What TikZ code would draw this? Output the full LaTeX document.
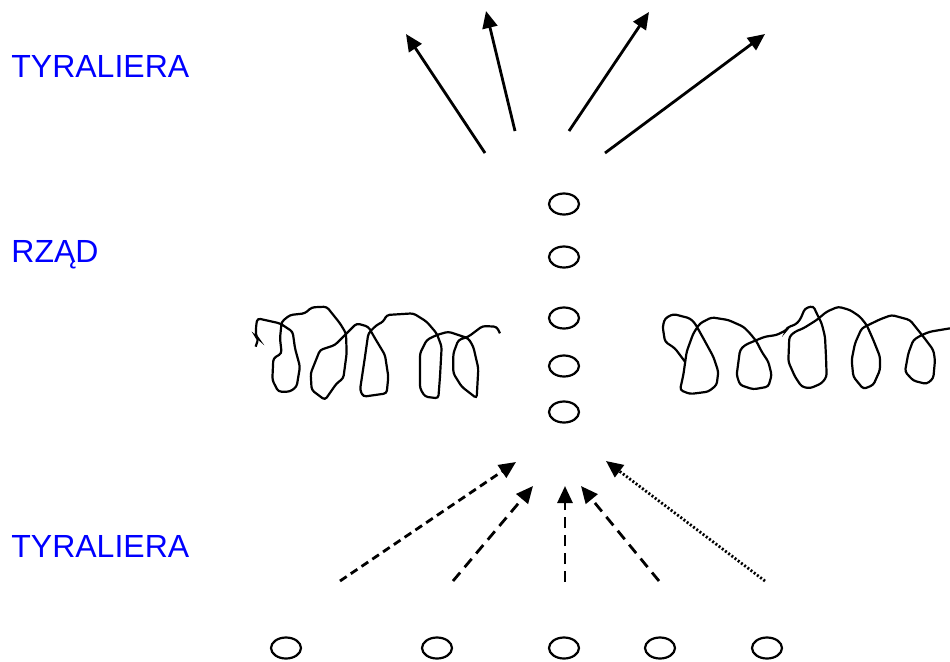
\documentclass[tikz,border=0pt]{standalone}
\usepackage{fontspec}
\setmainfont{Liberation Sans}
\usetikzlibrary{arrows.meta,shapes.geometric}
\begin{document}
\begin{tikzpicture}[x=0.5pt,y=-0.5pt,
    label/.style={text=blue,font=\fontsize{16}{19}\selectfont,anchor=base west,inner sep=0pt},
    soldier/.style={draw,ellipse,line width=1.1pt,minimum width=15pt,minimum height=10.5pt,inner sep=0pt},
    move/.style={line width=1.4pt,-{Triangle[length=8.5pt,width=7.5pt]}},
    coil/.style={line width=1.1pt,rounded corners=1.5pt}]
  \useasboundingbox (0,0) rectangle (950,661);
  % labels
  \draw
    (11,77) node[label] (t1){TYRALIERA}
    (11,262) node[label] (rz){RZĄD}
    (11,557) node[label] (t2){TYRALIERA};
  % column
  \draw
    (564,204) node[soldier] (c1){}
    (564,257) node[soldier] (c2){}
    (564,318) node[soldier] (c3){}
    (564,366) node[soldier] (c4){}
    (564,412) node[soldier] (c5){};
  % line at the bottom
  \draw
    (286,648) node[soldier] (b1){}
    (437,648) node[soldier] (b2){}
    (564,648) node[soldier] (b3){}
    (660,648) node[soldier] (b4){}
    (767,648) node[soldier] (b5){};
  % arrow ends
  \coordinate (u1) at (485,153);  \coordinate (v1) at (406,34);
  \coordinate (u2) at (515,131);  \coordinate (v2) at (486,11);
  \coordinate (u3) at (569,131);  \coordinate (v3) at (649,12);
  \coordinate (u4) at (605,153);  \coordinate (v4) at (765,34);
  \coordinate (p1) at (340,581);  \coordinate (q1) at (516,462);
  \coordinate (p2) at (453,581);  \coordinate (q2) at (533,486);
  \coordinate (p3) at (565,582);  \coordinate (q3) at (565,486);
  \coordinate (p4) at (659,581);  \coordinate (q4) at (581,486);
  \coordinate (p5) at (765,581);  \coordinate (q5) at (606,461);
  \begin{scope}[move]
    \draw (u1) to (v1);
    \draw (u2) to (v2);
    \draw (u3) to (v3);
    \draw (u4) to (v4);
    \draw[dash pattern=on 4pt off 2.5pt] (p1) to (q1);
    \draw[dash pattern=on 5.5pt off 3.5pt] (p2) to (q2);
    \draw[dash pattern=on 5.5pt off 3.5pt] (p3) to (q3);
    \draw[dash pattern=on 5.5pt off 3.5pt] (p4) to (q4);
    \draw[dash pattern=on 1pt off 1pt] (p5) to (q5);
  \end{scope}
  % wire entanglements
  \begin{scope}[shift={(240,290)},scale=1/3]
    \draw[coil] (47,170)--(55,146)--(48,140)--(48,110)--(52,85)--(120,100)--(158,125)
      --(165,175)--(180,230)--(170,290)--(150,305)--(115,305)--(97,270)--(100,205)
      --(125,190)--(120,145)--(125,95)--(150,75)--(195,70)--(215,52)--(260,50)
      --(280,75)--(300,100)--(318,130)--(320,190)--(310,265)--(290,280)--(255,330)
      --(215,300)--(212,250)--(240,180)--(285,165)--(320,130)--(350,100)--(385,110)
      --(405,145)--(435,195)--(445,260)--(440,310)--(370,320)--(360,300)--(375,200)
      --(385,130)--(410,105)--(430,95)--(440,75)--(520,70)--(560,95)--(590,130)
      --(605,170)--(600,260)--(595,325)--(555,320)--(540,295)--(540,190)--(560,150)
      --(590,135)--(625,125)--(685,145)--(700,170)--(715,235)--(710,325)--(665,290)
      --(640,250)--(640,190)--(655,150)--(685,140)--(728,108)--(770,110)--(780,130);
  \end{scope}
  \begin{scope}[shift={(650,290)},scale=1/3]
    \draw[coil] (105,215)--(75,175)--(45,155)--(38,110)--(45,85)--(70,72)--(120,85)
      --(135,100)--(160,145)--(190,200)--(205,245)--(200,285)--(175,305)--(120,312)
      --(90,300)--(100,255)--(110,185)--(130,130)--(150,100)--(185,82)--(235,90)
      --(280,110)--(300,130)--(320,155)--(335,185)--(355,215)--(365,255)--(355,290)
      --(310,298)--(270,285)--(260,255)--(270,180)--(285,165)--(320,150)--(345,140)
      --(380,135)--(410,120)--(415,110)--(435,105)--(450,90)--(465,55)--(490,48)
      --(500,70)--(515,100)--(525,140)--(528,200)--(530,260)--(515,280)--(480,295)
      --(455,290)--(435,260)--(415,215)--(418,140)--(435,125)--(460,115)--(500,90)
      --(530,65)--(565,50)--(600,60)--(630,80)--(650,105)--(670,150)--(690,200)
      --(690,240)--(670,285)--(640,297)--(610,260)--(605,210)--(615,160)--(635,115)
      --(655,105)--(690,88)--(725,75)--(780,90)--(800,115)--(820,140)--(850,180)
      --(855,210)--(850,265)--(830,282)--(790,272)--(765,245)--(775,190)--(790,150)
      --(815,135)--(840,125)--(870,120)--(900,115);
  \end{scope}
\end{tikzpicture}
\end{document}
